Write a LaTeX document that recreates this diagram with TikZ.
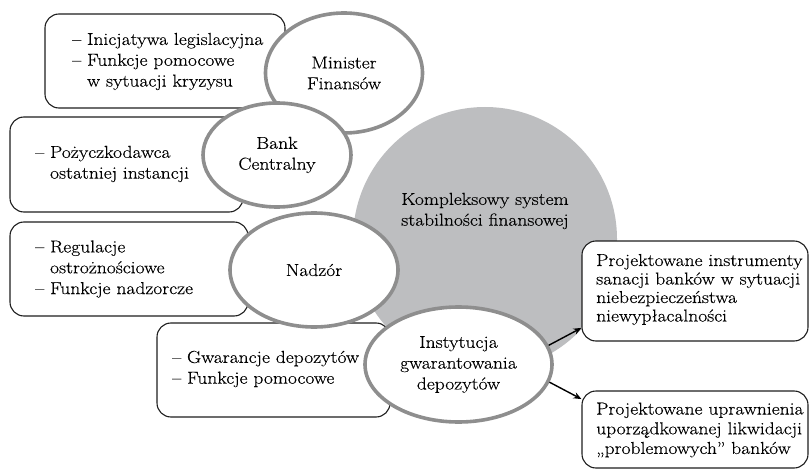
\documentclass[tikz,border=0pt]{standalone}
\usepackage{fontspec}
\setmainfont{Latin Modern Roman}[FakeStretch=1.13, FakeBold=0.3]
\usetikzlibrary{shapes.geometric,arrows.meta}
\definecolor{ringgray}{HTML}{8E8E8E}
\definecolor{discgray}{HTML}{BDBEC0}
\definecolor{boxline}{HTML}{1E1E1E}
\tikzset{
  infobox/.style={draw=boxline, line width=1.1pt, rounded corners=14pt, fill=white, inner sep=0pt},
  actor/.style={ellipse, draw=ringgray, line width=3.6pt, fill=white, inner sep=0pt, align=center},
  disc/.style={circle, fill=discgray, inner sep=0pt, minimum size=264pt},
  lefttext/.style={anchor=west, align=left, inner sep=0pt},
  midtext/.style={align=center, inner sep=0pt},
  arr/.style={-{Stealth[length=8pt,width=6.5pt]}, line width=1.4pt, draw=black},
}
\begin{document}
\begin{tikzpicture}[x=1pt, y=-1pt, font=\fontsize{17.3}{20.8}\selectfont]
\useasboundingbox (0,0) rectangle (810,470);
% central disc
\node[disc] (sys) at (485,239) {};
\node[midtext] (systext) at (485,211) {Kompleksowy system\\stabilności finansowej};
% boxes
\node[infobox, minimum width=240pt, minimum height=94pt] (b1) at (165,61) {};
\node[infobox, minimum width=233pt, minimum height=95pt] (b2) at (126.5,164.5) {};
\node[infobox, minimum width=238pt, minimum height=94pt] (b3) at (129,269) {};
\node[infobox, minimum width=233pt, minimum height=94pt] (b4) at (273.5,370) {};
\node[infobox, minimum width=226pt, minimum height=100pt] (b5) at (695,291) {};
\node[infobox, minimum width=226pt, minimum height=77pt] (b6) at (695,429.5) {};
% box texts
\node[lefttext] (t1) at (72,61.5) {– Inicjatywa legislacyjna\\– Funkcje pomocowe\\\phantom{– }w sytuacji kryzysu};
\node[lefttext] (t2) at (35,164) {– Pożyczkodawca\\\phantom{– }ostatniej instancji};
\node[lefttext] (t3) at (35,269) {– Regulacje\\\phantom{– }ostrożnościowe\\– Funkcje nadzorcze};
\node[lefttext] (t4) at (172,369) {– Gwarancje depozytów\\– Funkcje pomocowe};
\node[lefttext, font=\fontsize{17.3}{18.5}\selectfont] (t5) at (596,289.5) {Projektowane instrumenty\\sanacji banków w sytuacji\\niebezpieczeństwa\\niewypłacalności};
\node[lefttext, font=\fontsize{17.3}{19.7}\selectfont] (t6) at (596,430) {Projektowane uprawnienia\\uporządkowanej likwidacji\\„problemowych” banków};
% actors
\node[actor, minimum width=157pt, minimum height=120pt] (min) at (344,73) {Minister\\Finansów};
\node[actor, minimum width=148pt, minimum height=104pt] (bank) at (277,155) {Bank\\Centralny};
\node[actor, minimum width=168pt, minimum height=114pt] (nadz) at (314,270) {Nadzór};
\node[actor, minimum width=187pt, minimum height=115pt] (inst) at (458.5,364.5) {Instytucja\\gwarantowania\\depozytów};
% connectors
\draw[arr] (inst.12) -- (b5.198);
\draw[arr] (inst.-11) -- (b6.165);
\end{tikzpicture}
\end{document}
